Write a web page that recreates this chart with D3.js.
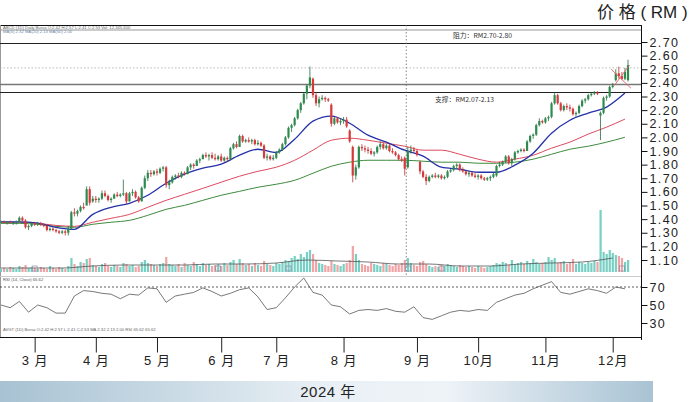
<!DOCTYPE html>
<html><head><meta charset="utf-8">
<script src="https://cdn.jsdelivr.net/npm/d3@7"></script>
<style>
html,body{margin:0;padding:0;background:#fff;}
svg{display:block;}
</style></head>
<body>
<svg id="c" width="690" height="402"></svg>
<script>
// ---------------- DATA ----------------
// daily candles [open, high, low, close], trading-day index 0..205 (mid-Feb .. mid-Dec 2024)
const candles = [
 [1.38,1.39,1.37,1.38],[1.38,1.39,1.37,1.37],[1.37,1.38,1.36,1.38],[1.38,1.39,1.37,1.37],[1.37,1.38,1.36,1.37],
 [1.37,1.39,1.36,1.38],[1.38,1.42,1.38,1.41],[1.41,1.42,1.38,1.39],[1.39,1.40,1.33,1.34],[1.34,1.36,1.32,1.35],
 [1.35,1.38,1.34,1.37],[1.37,1.38,1.35,1.36],[1.36,1.38,1.35,1.37],[1.37,1.38,1.35,1.36],[1.36,1.37,1.34,1.35],
 [1.35,1.36,1.31,1.32],[1.32,1.34,1.31,1.33],[1.33,1.34,1.31,1.32],[1.32,1.33,1.30,1.31],[1.31,1.32,1.29,1.30],
 [1.30,1.32,1.29,1.31],[1.31,1.32,1.28,1.30],[1.30,1.35,1.28,1.33],[1.33,1.46,1.32,1.45],[1.45,1.48,1.42,1.44],
 [1.44,1.47,1.42,1.46],[1.46,1.50,1.45,1.49],[1.49,1.52,1.47,1.48],[1.50,1.64,1.50,1.62],[1.62,1.64,1.50,1.52],
 [1.53,1.57,1.52,1.55],[1.55,1.57,1.52,1.54],[1.54,1.56,1.52,1.55],[1.55,1.61,1.54,1.59],[1.59,1.61,1.56,1.57],
 [1.57,1.58,1.53,1.54],[1.54,1.56,1.52,1.55],[1.55,1.59,1.55,1.58],[1.58,1.60,1.56,1.57],[1.57,1.59,1.56,1.58],
 [1.58,1.69,1.57,1.59],[1.59,1.60,1.51,1.53],[1.53,1.60,1.53,1.59],[1.59,1.62,1.57,1.60],[1.60,1.61,1.55,1.56],
 [1.56,1.57,1.52,1.53],[1.53,1.64,1.53,1.63],[1.63,1.72,1.62,1.70],[1.70,1.76,1.68,1.74],[1.74,1.76,1.71,1.73],
 [1.73,1.76,1.72,1.75],[1.75,1.77,1.72,1.74],[1.74,1.78,1.73,1.77],[1.77,1.79,1.75,1.78],[1.78,1.79,1.63,1.65],
 [1.65,1.69,1.62,1.67],[1.67,1.72,1.66,1.71],[1.71,1.73,1.69,1.72],[1.72,1.74,1.70,1.71],[1.71,1.75,1.70,1.74],
 [1.74,1.75,1.72,1.73],[1.73,1.79,1.73,1.78],[1.78,1.81,1.76,1.80],[1.80,1.81,1.77,1.79],[1.79,1.84,1.79,1.83],
 [1.83,1.85,1.81,1.84],[1.84,1.88,1.84,1.87],[1.87,1.89,1.85,1.86],[1.86,1.88,1.83,1.87],[1.87,1.89,1.84,1.85],
 [1.85,1.88,1.83,1.84],[1.84,1.87,1.83,1.86],[1.86,1.88,1.82,1.83],[1.83,1.86,1.82,1.85],[1.85,1.86,1.82,1.84],
 [1.84,1.93,1.83,1.92],[1.92,1.96,1.91,1.95],[1.95,1.97,1.92,1.93],[1.93,2.02,1.93,2.01],[2.01,2.02,1.96,1.97],
 [1.97,1.99,1.96,1.98],[1.98,2.00,1.96,1.97],[1.97,1.99,1.95,1.98],[1.98,1.99,1.94,1.95],[1.95,1.98,1.94,1.96],
 [1.96,1.97,1.93,1.94],[1.94,1.95,1.84,1.85],[1.85,1.88,1.83,1.86],[1.86,1.87,1.83,1.84],[1.84,1.87,1.83,1.85],
 [1.85,1.90,1.84,1.89],[1.89,1.92,1.88,1.91],[1.91,1.96,1.90,1.95],[1.95,2.01,1.94,2.00],[2.00,2.08,1.99,2.07],
 [2.07,2.10,2.04,2.09],[2.09,2.15,2.08,2.14],[2.14,2.21,2.13,2.20],[2.20,2.26,2.18,2.25],[2.25,2.33,2.24,2.32],
 [2.32,2.39,2.28,2.38],[2.38,2.52,2.36,2.44],[2.43,2.44,2.29,2.31],[2.31,2.33,2.23,2.25],[2.25,2.30,2.22,2.28],
 [2.28,2.31,2.27,2.29],[2.29,2.30,2.26,2.28],[2.28,2.29,2.26,2.27],[2.24,2.25,2.08,2.10],[2.10,2.15,2.09,2.14],
 [2.14,2.15,2.10,2.11],[2.11,2.14,2.09,2.12],[2.12,2.15,2.10,2.13],[2.13,2.15,2.07,2.08],[2.05,2.06,1.96,1.97],
 [1.93,1.94,1.67,1.72],[1.72,1.80,1.69,1.78],[1.78,1.94,1.77,1.93],[1.93,1.95,1.90,1.92],[1.92,1.94,1.89,1.91],
 [1.91,1.93,1.88,1.90],[1.90,1.92,1.87,1.88],[1.88,1.90,1.86,1.89],[1.89,1.94,1.88,1.93],[1.93,1.97,1.91,1.95],
 [1.95,1.96,1.91,1.92],[1.92,1.95,1.91,1.94],[1.94,1.95,1.89,1.90],[1.90,1.92,1.88,1.89],[1.89,1.90,1.86,1.87],
 [1.87,1.88,1.83,1.84],[1.84,1.86,1.82,1.83],[1.85,1.86,1.72,1.77],[1.78,1.93,1.77,1.90],[1.90,1.94,1.88,1.91],
 [1.91,1.93,1.89,1.90],[1.90,1.91,1.86,1.87],[1.82,1.83,1.73,1.75],[1.75,1.76,1.70,1.71],[1.71,1.73,1.65,1.68],
 [1.68,1.72,1.67,1.71],[1.71,1.73,1.70,1.72],[1.72,1.74,1.70,1.71],[1.71,1.73,1.70,1.72],[1.72,1.73,1.69,1.70],
 [1.70,1.72,1.69,1.71],[1.71,1.76,1.70,1.75],[1.75,1.77,1.74,1.76],[1.76,1.80,1.75,1.79],[1.79,1.81,1.77,1.80],
 [1.80,1.81,1.75,1.76],[1.76,1.78,1.74,1.75],[1.75,1.76,1.72,1.73],[1.73,1.75,1.71,1.74],[1.74,1.75,1.71,1.72],
 [1.72,1.74,1.70,1.71],[1.71,1.73,1.69,1.72],[1.72,1.73,1.69,1.70],[1.70,1.71,1.68,1.69],[1.69,1.71,1.68,1.70],
 [1.70,1.72,1.68,1.71],[1.71,1.74,1.70,1.73],[1.72,1.80,1.71,1.79],[1.79,1.82,1.78,1.80],[1.80,1.83,1.79,1.82],
 [1.82,1.87,1.81,1.86],[1.86,1.87,1.80,1.81],[1.81,1.85,1.79,1.84],[1.84,1.90,1.83,1.89],[1.89,1.91,1.88,1.90],
 [1.90,1.92,1.89,1.91],[1.91,1.92,1.89,1.90],[1.90,1.98,1.90,1.97],[1.97,2.02,1.96,2.01],[2.01,2.03,1.99,2.02],
 [2.02,2.10,2.01,2.09],[2.09,2.14,2.08,2.12],[2.12,2.13,2.10,2.11],[2.11,2.15,2.10,2.14],[2.14,2.16,2.12,2.15],
 [2.15,2.26,2.14,2.25],[2.25,2.33,2.24,2.31],[2.31,2.32,2.24,2.25],[2.25,2.26,2.19,2.20],[2.20,2.24,2.19,2.23],
 [2.23,2.25,2.20,2.22],[2.22,2.24,2.19,2.21],[2.21,2.22,2.16,2.17],[2.17,2.19,2.15,2.18],[2.18,2.24,2.17,2.23],
 [2.23,2.28,2.22,2.27],[2.27,2.29,2.25,2.28],[2.28,2.32,2.27,2.31],[2.31,2.33,2.30,2.32],[2.32,2.34,2.31,2.33],
 [2.33,2.34,2.31,2.32],[2.16,2.19,1.98,2.18],[2.18,2.30,2.17,2.29],[2.29,2.31,2.27,2.30],[2.30,2.38,2.29,2.37],
 [2.37,2.40,2.36,2.38],[2.42,2.50,2.41,2.47],[2.47,2.52,2.43,2.45],[2.45,2.48,2.42,2.43],[2.43,2.51,2.42,2.48],
 [2.42,2.57,2.41,2.53]
];
// daily volume (relative units)
const volumes = [
 3,4,3,5,4,3,6,5,7,4,5,
 4,3,5,4,3,6,4,3,5,4,3,6,
 14,8,6,10,9,13,14,
 7,6,5,8,9,6,5,7,6,5,9,8,6,7,5,6,
 10,12,9,8,7,6,8,9,15,8,
 7,6,8,5,9,7,6,10,8,6,9,7,8,6,7,
 8,6,9,7,10,12,8,13,9,7,8,6,9,7,6,
 11,8,7,6,9,8,10,12,11,14,16,13,18,15,20,
 22,18,12,9,8,7,6,11,8,7,6,8,9,12,26,
 18,12,8,7,6,9,8,7,6,9,8,7,6,8,7,9,
 12,14,9,7,6,10,11,8,6,5,6,5,7,6,8,7,6,5,7,
 6,5,6,5,4,6,5,4,5,6,7,9,8,10,9,7,12,8,9,10,
 8,11,9,13,10,8,9,10,15,12,14,9,10,11,8,9,13,8,10,9,
 8,10,9,11,10,62,20,18,22,19,17,16,14,10,12
];
// volume average, every 10 days
const volAvg = [4,4,4,6,7,7,7,8,8,9,12,11,10,8,8,6,6,8,9,10,14];
// moving averages, read every 6 trading days (day 0,6,...,204)
const maShort = [1.38,1.38,1.37,1.34,1.325,1.435,1.487,1.516,1.575,1.663,1.73,1.774,1.803,1.869,1.913,1.89,1.987,2.119,2.156,2.104,2.016,1.965,1.906,1.862,1.781,1.766,1.744,1.744,1.796,1.884,2.031,2.126,2.178,2.222,2.325];
const maMid = [1.377,1.377,1.369,1.354,1.347,1.377,1.406,1.435,1.487,1.538,1.582,1.626,1.671,1.715,1.751,1.781,1.832,1.906,1.979,1.994,1.979,1.957,1.935,1.906,1.906,1.876,1.84,1.818,1.84,1.869,1.921,1.965,2.024,2.075,2.134];
const maLong = [1.369,1.369,1.362,1.347,1.34,1.362,1.377,1.391,1.428,1.472,1.501,1.538,1.575,1.604,1.634,1.656,1.685,1.737,1.788,1.818,1.832,1.832,1.832,1.825,1.818,1.818,1.81,1.81,1.818,1.84,1.876,1.913,1.935,1.965,2.001];
// RSI(14), read every 3 trading days
const rsi = [50,47,54,42,50,47,41,41,60,66, 65,63,62,57,62,61,69,68,53,60, 62,64,69,65,60,63,67,69,59,45,
 47,58,70,80,64,61,50,48,40,44, 45,44,46,43,42,48,36,34,38,42, 44,43,45,44,53,57,61,63,68,72,
 76,64,62,65,68,66,63,70,68];
const priceTicks = [2.70,2.60,2.50,2.40,2.30,2.20,2.10,2.00,1.90,1.80,1.70,1.60,1.50,1.40,1.30,1.20,1.10];
const rsiTicks = [70,50,30];
const monthDays = [11,31,51,72,90,112,136,156,178,200];
const monthLabels = ["3 月","4 月","5 月","6 月","7 月","8 月","9 月","10月","11月","12月"];
const refLines = [2.693, 2.392, 2.333];
const dottedLevel = 2.51;
const markerDay = 132.5;
const resistanceText = "阻力：RM2.70-2.80";
const supportText = "支撑：RM2.07-2.13";

// ---------------- DRAW ----------------
const svg = d3.select('#c');
const plotR = 641, plotT = 25, plotB = 337;
const x = d3.scaleLinear().domain([0, 205]).range([1, 628]);
const y = d3.scaleLinear().domain([1.10, 2.70]).range([260, 42]);
const yv = d3.scaleLinear().domain([0, 70]).range([272, 202]);
const yr = d3.scaleLinear().domain([30, 70]).range([323, 287]);
const UP = '#2e8b4f', DOWN = '#d7393b';
const VUP = '#78d0c4', VDOWN = '#f2a3a6';
const latin = '"Liberation Sans", Arial, Helvetica, sans-serif';
const mixed = '"Liberation Sans", "Noto Sans CJK SC", sans-serif';
const cjk = '"Noto Sans CJK SC", "Liberation Sans", sans-serif';

const defs = svg.append('defs');
const grad = defs.append('linearGradient').attr('id','band').attr('x1','0').attr('x2','1');
grad.append('stop').attr('offset','0%').attr('stop-color','#a7c2d3');
grad.append('stop').attr('offset','50%').attr('stop-color','#e9f0f5');
grad.append('stop').attr('offset','68%').attr('stop-color','#eef3f7');
grad.append('stop').attr('offset','100%').attr('stop-color','#a9c3d4');

// title
svg.append('text').attr('x', 597).attr('y', 18)
  .attr('font-family', mixed).attr('font-size', 17).attr('fill','#222')
  .style('white-space','pre')
  .text('价 格 ( RM )');

// frame
svg.append('line').attr('x1',0).attr('x2',plotR).attr('y1',plotT+0.5).attr('y2',plotT+0.5).attr('stroke','#111').attr('stroke-width',1.2);
svg.append('line').attr('x1',0).attr('x2',plotR).attr('y1',30).attr('y2',30).attr('stroke','#bbb').attr('stroke-width',1.5);
svg.append('line').attr('x1',0.5).attr('x2',0.5).attr('y1',plotT).attr('y2',plotB).attr('stroke','#999');
svg.append('line').attr('x1',0).attr('x2',plotR).attr('y1',plotB+0.5).attr('y2',plotB+0.5).attr('stroke','#111');
svg.append('line').attr('x1',0).attr('x2',plotR).attr('y1',276.5).attr('y2',276.5).attr('stroke','#ccc');
// header tiny texts
svg.append('text').attr('x',3).attr('y',28.5).attr('font-family',latin).attr('font-size',4.2).attr('fill','#666')
  .text('ABCD (1D) Daily Bursa   O:2.42  H:2.57  L:2.41  C:2.53  Vol: 12,345,600');
svg.append('text').attr('x',3).attr('y',33).attr('font-family',latin).attr('font-size',4.2).attr('fill','#6a88a8')
  .text('MA(5)  2.32   MA(20) 2.13   MA(50) 2.00');

// reference lines
svg.append('g').selectAll('line').data(refLines).join('line')
  .attr('x1',0).attr('x2',plotR).attr('y1',d=>Math.round(y(d))+0.5).attr('y2',d=>Math.round(y(d))+0.5)
  .attr('stroke',(d,i)=>i===1?'#777':'#222').attr('stroke-width',(d,i)=>i===1?1.4:1.1);
svg.append('line').attr('x1',0).attr('x2',plotR).attr('y1',y(dottedLevel)).attr('y2',y(dottedLevel))
  .attr('stroke','#aaa').attr('stroke-dasharray','1.5,2').attr('stroke-width',0.8);
svg.append('line').attr('x1',x(markerDay)).attr('x2',x(markerDay)).attr('y1',plotT).attr('y2',275)
  .attr('stroke','#666').attr('stroke-dasharray','1.5,2').attr('stroke-width',0.8);

svg.append('text').attr('x',453).attr('y',37.5).attr('font-family',cjk).attr('font-size',6.8).attr('fill','#333').text(resistanceText);
svg.append('text').attr('x',435).attr('y',101.5).attr('font-family',cjk).attr('font-size',6.8).attr('fill','#333').text(supportText);

// volume bars
svg.append('g').selectAll('rect').data(volumes).join('rect')
  .attr('x',(d,i)=>x(i)-1).attr('width',2.2)
  .attr('y',d=>yv(d)).attr('height',d=>yv(0)-yv(d))
  .attr('fill',(d,i)=>candles[i][3]>=candles[i][0]?VUP:VDOWN);
const volLine = d3.line().x((d,i)=>x(Math.min(i*10,205))).y(d=>yv(d)).curve(d3.curveMonotoneX);
svg.append('path').attr('d',volLine(volAvg)).attr('fill','none').attr('stroke','#555').attr('stroke-width',0.8);
// small markers on the volume baseline
svg.append('g').selectAll('rect').data([11,71,94,133,144,203]).join('rect')
  .attr('x',d=>x(d)-2.5).attr('y',yv(0)-6).attr('width',5).attr('height',5)
  .attr('fill','none').attr('stroke','#8a8aa8').attr('stroke-width',0.7);

// moving averages
const maLine = d3.line().x((d,i)=>x(i*6)).y(d=>y(d)).curve(d3.curveMonotoneX);
svg.append('path').attr('d',maLine(maLong)).attr('fill','none').attr('stroke','#3d8b3d').attr('stroke-width',1);
svg.append('path').attr('d',maLine(maMid)).attr('fill','none').attr('stroke','#dc4a5e').attr('stroke-width',1);
svg.append('path').attr('d',maLine(maShort)).attr('fill','none').attr('stroke','#2431a8').attr('stroke-width',1.3);

// candles
const cg = svg.append('g');
cg.selectAll('line').data(candles).join('line')
  .attr('x1',(d,i)=>x(i)).attr('x2',(d,i)=>x(i))
  .attr('y1',d=>y(d[1])).attr('y2',d=>y(d[2]))
  .attr('stroke',d=>d[3]>=d[0]?'#2a6b40':'#b83032').attr('stroke-width',0.8);
cg.selectAll('rect').data(candles).join('rect')
  .attr('x',(d,i)=>x(i)-1.1).attr('width',2.2)
  .attr('y',d=>y(Math.max(d[0],d[3])))
  .attr('height',d=>Math.max(1,Math.abs(y(d[0])-y(d[3]))))
  .attr('fill',d=>d[3]>=d[0]?UP:DOWN);

// red cross annotation at the end
const crossLines = [[[199.5,2.50],[206,2.36]],[[200.5,2.38],[205.5,2.53]]];
svg.append('g').selectAll('line').data(crossLines).join('line')
  .attr('x1',d=>x(d[0][0])).attr('y1',d=>y(d[0][1])).attr('x2',d=>x(d[1][0])).attr('y2',d=>y(d[1][1]))
  .attr('stroke','#e0606a').attr('stroke-width',0.9);

// RSI panel
svg.append('text').attr('x',3).attr('y',281).attr('font-family',latin).attr('font-size',4.2).attr('fill','#555').text('RSI (14, Close)  65.62');
svg.append('line').attr('x1',0).attr('x2',plotR).attr('y1',yr(70)).attr('y2',yr(70))
  .attr('stroke','#333').attr('stroke-dasharray','2,2').attr('stroke-width',0.8);
const rsiLine = d3.line().x((d,i)=>x(i*3)).y(d=>yr(d));
svg.append('path').attr('d',rsiLine(rsi)).attr('fill','none').attr('stroke','#555').attr('stroke-width',0.8);
svg.append('text').attr('x',3).attr('y',331).attr('font-family',latin).attr('font-size',4.2).attr('fill','#666')
  .text('AVGT (1D) Bursa  O:2.42  H:2.57  L:2.41  C:2.53  MA 2.32  2.13  2.00   RSI 65.62   65.62');

// right axis
svg.append('line').attr('x1',plotR+0.5).attr('x2',plotR+0.5).attr('y1',plotT).attr('y2',plotB+3).attr('stroke','#111');
const yAxis = d3.axisRight(y).tickValues(priceTicks).tickSize(6).tickPadding(2).tickFormat(d=>d.toFixed(2));
const ga = svg.append('g').attr('transform',`translate(${plotR+0.5},0)`).call(yAxis);
const rAxis = d3.axisRight(yr).tickValues(rsiTicks).tickSize(6).tickPadding(2).tickFormat(d3.format('d'));
const gr = svg.append('g').attr('transform',`translate(${plotR+0.5},0)`).call(rAxis);
[ga,gr].forEach(g=>{
  g.select('.domain').remove();
  g.selectAll('line').attr('stroke','#111');
  g.selectAll('text').attr('font-family',latin).attr('font-size',12.5).attr('fill','#222')
   .attr('letter-spacing','1.4px');
});

// bottom month axis
const xAxis = d3.axisBottom(x).tickValues(monthDays).tickSize(15).tickPadding(3)
  .tickFormat((d,i)=>monthLabels[i]);
const gx = svg.append('g').attr('transform',`translate(0,${plotB+0.5})`).call(xAxis);
gx.select('.domain').remove();
gx.selectAll('line').attr('stroke','#222');
gx.selectAll('text').attr('font-family',mixed).attr('font-size',13).attr('fill','#222')
  .attr('letter-spacing','1px').style('white-space','pre');

// year band
svg.append('rect').attr('x',0).attr('y',381).attr('width',653).attr('height',21).attr('fill','url(#band)');
svg.append('text').attr('x',328).attr('y',397).attr('text-anchor','middle')
  .attr('font-family',mixed).attr('font-size',15).attr('fill','#222').attr('letter-spacing','0.5px')
  .style('white-space','pre').text('2024 年');
</script>
</body></html>
